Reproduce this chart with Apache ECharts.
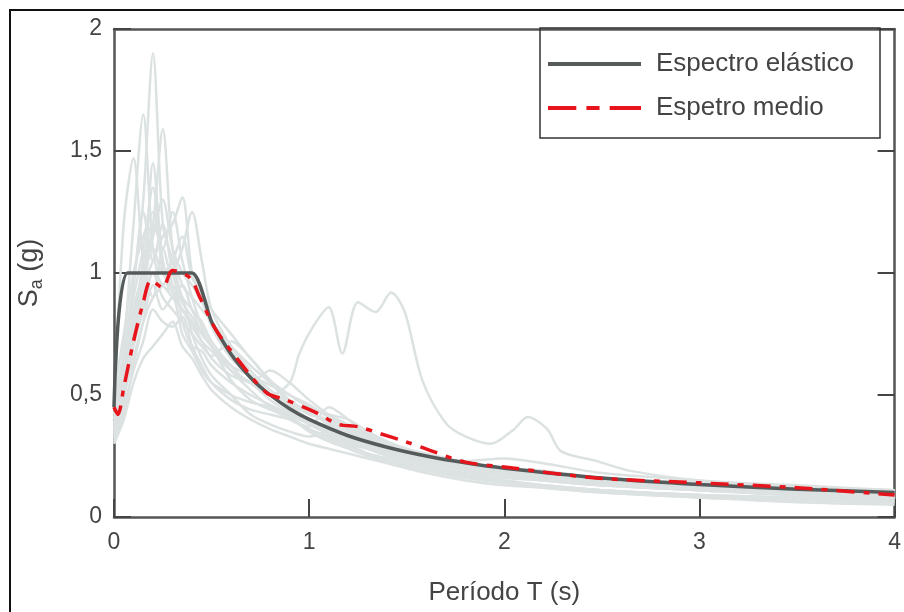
<!DOCTYPE html>
<html>
<head>
<meta charset="utf-8">
<script src="https://cdn.jsdelivr.net/npm/echarts@6/dist/echarts.min.js"></script>
<style>
  html, body { margin: 0; padding: 0; background: #fff; }
  #chart { width: 904px; height: 612px; }
</style>
</head>
<body>
<div id="chart"></div>
<script>
// periodos comunes de los registros (s)
var recPeriods = [0, 0.05, 0.1, 0.15, 0.2, 0.25, 0.3, 0.35, 0.4, 0.45, 0.5, 0.6, 0.7, 0.8, 0.9, 1.0, 1.1, 1.2, 1.3, 1.4, 1.5, 1.6, 1.8, 2.0, 2.2, 2.5, 3.0, 3.5, 4.0]
// espectros de los registros (g)
var rec1  = [.40,.62,.95,1.30,1.90,1.20,1.05,.90,.85,.75,.70,.60,.52,.45,.40,.36,.32,.29,.26,.24,.22,.20,.17,.15,.13,.11,.09,.07,.06]
var rec2  = [.35,.70,1.20,1.65,1.10,.95,1.00,.80,.70,.68,.62,.55,.50,.46,.42,.38,.35,.31,.28,.25,.23,.21,.18,.16,.15,.13,.11,.09,.08]
var rec3  = [.45,1.20,1.47,1.05,.90,1.10,.95,.85,.80,.72,.65,.58,.55,.50,.45,.40,.37,.33,.30,.27,.25,.23,.20,.18,.16,.14,.12,.10,.09]
var rec4  = [.38,.55,.80,1.00,1.20,1.59,1.10,.95,.90,.85,.80,.70,.62,.55,.47,.42,.40,.36,.32,.29,.26,.24,.21,.19,.17,.15,.12,.10,.09]
var rec5  = [.42,.60,.75,.95,1.05,1.15,1.20,1.31,1.00,.90,.78,.65,.58,.52,.46,.40,.36,.33,.30,.27,.25,.23,.20,.18,.16,.14,.12,.11,.10]
var rec6  = [.36,.50,.65,.80,.90,.95,1.00,1.10,1.25,1.05,.85,.70,.60,.52,.47,.43,.39,.35,.31,.28,.25,.23,.20,.17,.15,.13,.11,.09,.08]
var rec7  = [.30,.40,.55,.65,.70,.75,.80,.70,.65,.58,.52,.45,.40,.36,.33,.30,.28,.26,.24,.22,.20,.18,.15,.13,.12,.10,.08,.06,.05]
var rec8  = [.50,.75,1.00,1.15,1.25,1.05,.90,.95,.85,.80,.72,.62,.55,.60,.55,.48,.42,.38,.34,.30,.27,.25,.22,.20,.18,.16,.13,.11,.10]
var rec9  = [.33,.48,.70,.85,1.00,.90,.85,.80,.75,.70,.66,.72,.65,.56,.50,.45,.42,.40,.35,.31,.28,.26,.23,.24,.22,.18,.15,.12,.11]
var rec10 = [.40,.65,.90,1.10,1.35,1.00,.95,.90,.75,.65,.58,.50,.42,.38,.35,.33,.35,.30,.26,.23,.21,.19,.16,.14,.13,.11,.09,.08,.07]
var rec11 = [.37,.52,.80,.95,1.15,1.30,1.10,1.00,.95,.88,.80,.68,.58,.50,.44,.38,.34,.31,.28,.26,.24,.23,.22,.20,.19,.16,.14,.12,.11]
var rec12 = [.44,.58,.85,1.00,1.10,1.00,1.05,1.15,.98,.92,.85,.75,.65,.56,.48,.43,.38,.34,.31,.28,.26,.24,.21,.19,.17,.15,.13,.12,.11]
var rec13 = [.32,.45,.60,.72,.85,.80,.78,.82,.70,.62,.55,.48,.44,.42,.40,.37,.45,.40,.33,.28,.24,.21,.17,.14,.12,.10,.08,.07,.06]
var rec15 = [.34,.50,.72,.90,1.45,1.05,.92,.85,.78,.72,.68,.60,.55,.48,.43,.39,.36,.32,.29,.27,.25,.23,.20,.18,.16,.14,.12,.10,.09]
var rec16 = [.46,.68,.95,1.25,1.05,1.20,1.00,.88,.82,.76,.70,.56,.48,.44,.41,.36,.33,.30,.28,.26,.24,.22,.19,.17,.15,.13,.11,.09,.08]
var rec17 = [.38,.56,.78,1.05,1.20,1.10,1.25,1.05,.90,.78,.70,.62,.58,.54,.50,.46,.41,.37,.33,.30,.27,.25,.22,.19,.17,.15,.12,.10,.09]
var rec18 = [.31,.42,.62,.80,.95,.85,.90,.75,.68,.60,.55,.50,.47,.45,.41,.35,.31,.28,.25,.23,.21,.19,.17,.15,.13,.11,.09,.08,.07]
// registro con picos en periodos largos
var rec14Periods = [0,.05,.1,.15,.2,.25,.3,.35,.4,.5,.6,.7,.8,.9,.95,1.02,1.1,1.17,1.25,1.34,1.42,1.49,1.58,1.7,1.8,1.93,2.05,2.12,2.22,2.29,2.47,2.64,3.0,3.5,4.0]
var rec14 = [.38,.55,.75,.90,1.00,.95,.90,.85,.80,.70,.60,.55,.50,.55,.67,.78,.86,.67,.88,.84,.92,.84,.56,.385,.33,.30,.36,.41,.36,.27,.23,.19,.15,.13,.11]

// espectro elástico
var elasticT  = [0, 0.07, 0.4, 0.5, 0.6, 0.7, 0.8, 0.9, 1.0, 1.2, 1.4, 1.6, 1.8, 2.0, 2.5, 3.0, 3.5, 4.0]
var elasticSa = [0.45, 1.0, 1.0, 0.8, 0.667, 0.571, 0.5, 0.444, 0.4, 0.333, 0.286, 0.25, 0.222, 0.2, 0.16, 0.133, 0.114, 0.1]
// espectro medio
var meanT  = [0, 0.02, 0.05, 0.1, 0.15, 0.19, 0.25, 0.3, 0.39, 0.44, 0.52, 0.64, 0.78, 0.88, 1.03, 1.15, 1.25, 1.37, 1.49, 1.63, 1.8, 2.0, 2.47, 3.0, 3.5, 4.0]
var meanSa = [0.45, 0.42, 0.53, 0.72, 0.88, 0.97, 0.94, 1.01, 0.98, 0.90, 0.77, 0.64, 0.51, 0.48, 0.43, 0.38, 0.37, 0.34, 0.31, 0.27, 0.225, 0.205, 0.16, 0.14, 0.12, 0.09]

var xTicks = [0, 1, 2, 3, 4]
var yTicks = [0, 0.5, 1, 1.5, 2]

var FONT = "'Liberation Sans', Arial, Helvetica, sans-serif"
var GRAY = '#dce2e2'

function pairs(xs, ys) {
  return xs.map(function (x, i) { return [x, ys[i]] })
}

var records = [rec1, rec2, rec3, rec4, rec5, rec6, rec7, rec8, rec9, rec10, rec11, rec12, rec13, rec15, rec16, rec17, rec18]
var series = records.map(function (r, i) {
  return {
    name: 'Registro ' + (i + 1),
    type: 'line',
    data: pairs(recPeriods, r),
    symbol: 'none',
    smooth: 0.3,
    silent: true,
    lineStyle: { color: GRAY, width: 2.5 },
    z: 1
  }
})
series.push({
  name: 'Registro largo',
  type: 'line',
  data: pairs(rec14Periods, rec14),
  symbol: 'none',
  smooth: 0.3,
  silent: true,
  lineStyle: { color: GRAY, width: 2.5 },
  z: 1
})
series.push({
  name: 'Espectro elástico',
  type: 'line',
  data: pairs(elasticT, elasticSa),
  symbol: 'none',
  smooth: 0.2,
  lineStyle: { color: '#555a5a', width: 3.5 },
  itemStyle: { color: '#555a5a' },
  z: 3
})
series.push({
  name: 'Espetro medio',
  type: 'line',
  data: pairs(meanT, meanSa),
  symbol: 'none',
  smooth: 0.3,
  lineStyle: { color: '#e8141b', width: 3.5, type: [18, 9, 6, 9] },
  itemStyle: { color: '#e8141b' },
  z: 4
})

var chart = echarts.init(document.getElementById('chart'))
chart.setOption({
  animation: false,
  backgroundColor: '#fff',
  grid: { left: 114, right: 4, top: 29, bottom: 95 },
  legend: {
    data: [
      { name: 'Espectro elástico', icon: 'path://M0,0H92V4H0Z' },
      { name: 'Espetro medio', icon: 'path://M0,0H28V4H0Z M38,0H51V4H38Z M61,0H92V4H61Z' }
    ],
    orient: 'vertical',
    left: 548,
    top: 51,
    padding: 0,
    itemWidth: 93,
    itemHeight: 14,
    itemGap: 18,
    textStyle: { fontFamily: FONT, fontSize: 26, color: '#444', padding: [0, 0, 0, 10] }
  },
  xAxis: [{
    type: 'value',
    min: 0, max: 4, interval: 1,
    name: 'Período T (s)',
    nameLocation: 'middle',
    nameGap: 63,
    nameTextStyle: { fontFamily: FONT, fontSize: 26, color: '#444' },
    axisLine: { onZero: false, lineStyle: { color: '#555', width: 2.5 } },
    axisTick: { inside: true, length: 18, lineStyle: { color: '#444', width: 2 } },
    axisLabel: {
      fontFamily: FONT, fontSize: 23, color: '#444', margin: 14,
      formatter: function (v) { return xTicks.indexOf(v) >= 0 ? String(v) : '' }
    },
    splitLine: { show: false }
  }, {
    type: 'value',
    position: 'top',
    min: 0, max: 4, interval: 1,
    axisLine: { onZero: false, lineStyle: { color: '#555', width: 2.5 } },
    axisTick: { show: false },
    axisLabel: { show: false },
    splitLine: { show: false }
  }],
  yAxis: [{
    type: 'value',
    min: 0, max: 2, interval: 0.5,
    name: '{s|S}{sub|a}{s| (g)}',
    nameLocation: 'middle',
    nameRotate: 90,
    nameGap: 68,
    nameTextStyle: {
      fontFamily: FONT, color: '#444',
      rich: {
        s: { fontFamily: FONT, fontSize: 27, color: '#444', lineHeight: 32, verticalAlign: 'middle' },
        sub: { fontFamily: FONT, fontSize: 18, color: '#444', lineHeight: 32, verticalAlign: 'bottom' }
      }
    },
    axisLine: { onZero: false, lineStyle: { color: '#555', width: 2.5 } },
    axisTick: { inside: true, length: 17, lineStyle: { color: '#444', width: 2 } },
    axisLabel: {
      fontFamily: FONT, fontSize: 23, color: '#444', margin: 12,
      formatter: function (v) { return yTicks.indexOf(v) >= 0 ? String(v).replace('.', ',') : '' }
    },
    splitLine: { show: false }
  }, {
    type: 'value',
    position: 'right',
    min: 0, max: 2, interval: 0.5,
    axisLine: { onZero: false, lineStyle: { color: '#555', width: 2.5 } },
    axisTick: { inside: true, length: 17, lineStyle: { color: '#444', width: 2 } },
    axisLabel: { show: false },
    splitLine: { show: false }
  }],
  graphic: [{
    type: 'rect',
    shape: { x: 10, y: 10, width: 1000, height: 800 },
    style: { fill: 'none', stroke: '#111', lineWidth: 2 },
    silent: true,
    z: 10
  }, {
    type: 'rect',
    shape: { x: 540, y: 28, width: 340, height: 110 },
    style: { fill: 'none', stroke: '#333', lineWidth: 1.5 },
    silent: true,
    z: 10
  }],
  series: series
})
</script>
</body>
</html>
